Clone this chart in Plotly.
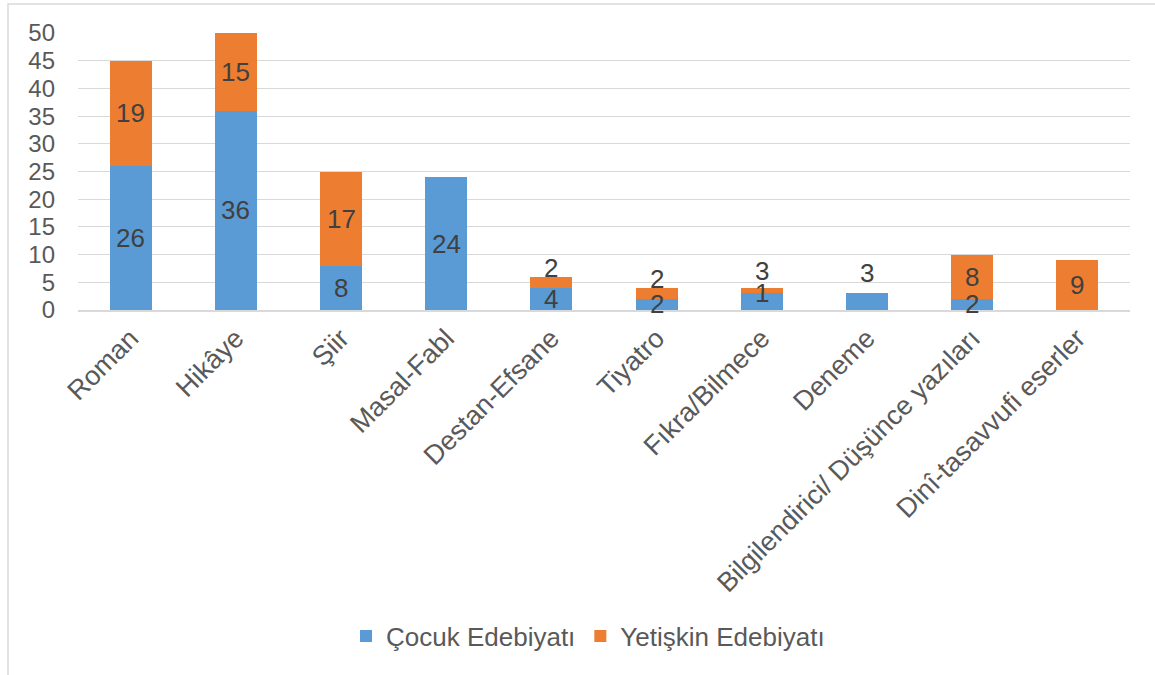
import plotly.graph_objects as go

categories = ["Roman", "Hikâye", "Şiir", "Masal-Fabl", "Destan-Efsane", "Tiyatro",
              "Fıkra/Bilmece", "Deneme", "Bilgilendirici/ Düşünce yazıları",
              "Dinî-tasavvufi eserler"]
cocuk = [26, 36, 8, 24, 4, 2, 3, 3, 2, 0]
yetiskin = [19, 14, 17, 0, 2, 2, 1, 0, 8, 9]
cocuk_labels = ["26", "36", "8", "24", "4", "2", "1", "3", "2", ""]
yetiskin_labels = ["19", "15", "17", "", "2", "2", "3", "", "8", "9"]

# label nudges (pixels up) for labels that sit above small segments
cocuk_shift = {"Fıkra/Bilmece": 9, "Deneme": 29}
yetiskin_shift = {"Destan-Efsane": 14, "Tiyatro": 14, "Fıkra/Bilmece": 20}

W, H = 1155, 675
ML, MR, MT, MB = 78, 25, 33, 365
PW, PH = W - ML - MR, H - MT - MB

BLUE = "#5B9BD5"
ORANGE = "#ED7D31"
GRID = "#D9D9D9"
FONT = "Liberation Sans, Arial, sans-serif"

fig = go.Figure()
fig.add_trace(go.Bar(name="Çocuk Edebiyatı", x=categories, y=cocuk,
                     marker=dict(color=BLUE, line=dict(width=0))))
fig.add_trace(go.Bar(name="Yetişkin Edebiyatı", x=categories, y=yetiskin,
                     marker=dict(color=ORANGE, line=dict(width=0))))

annotations = []
for c, v1, v2, l1, l2 in zip(categories, cocuk, yetiskin, cocuk_labels, yetiskin_labels):
    if l1:
        annotations.append(dict(x=c, y=v1 / 2, text=l1, showarrow=False,
                                yshift=cocuk_shift.get(c, 0),
                                font=dict(size=26, color="#404040", family=FONT)))
    if l2:
        annotations.append(dict(x=c, y=v1 + v2 / 2, text=l2, showarrow=False,
                                yshift=yetiskin_shift.get(c, 0),
                                font=dict(size=26, color="#404040", family=FONT)))

def px_x(p):
    return (p - ML) / PW

def px_y(p):
    return (H - MB - p) / PH

fig.update_layout(
    width=W, height=H,
    margin=dict(l=ML, r=MR, t=MT, b=MB, autoexpand=False),
    barmode="stack",
    bargap=0.6,
    plot_bgcolor="white",
    paper_bgcolor="white",
    font=dict(family=FONT, color="#595959", size=24),
    annotations=annotations,
    showlegend=True,
    legend=dict(orientation="h", x=px_x(588), xanchor="center",
                y=px_y(636), yanchor="middle",
                font=dict(size=26, color="#595959", family=FONT),
                bgcolor="rgba(0,0,0,0)", itemwidth=30, traceorder="normal"),
    shapes=[dict(type="rect", xref="paper", yref="paper",
                 x0=px_x(8), x1=px_x(1170), y0=px_y(690), y1=px_y(4),
                 line=dict(color=GRID, width=1.5), fillcolor="rgba(0,0,0,0)",
                 layer="below")],
)

fig.update_xaxes(tickangle=-45, tickfont=dict(size=27, color="#595959", family=FONT),
                 showline=True, linecolor=GRID, linewidth=1.5, showgrid=False,
                 ticks="", automargin=False)
fig.update_yaxes(range=[0, 50], dtick=5, tick0=0, showgrid=True, gridcolor=GRID,
                 gridwidth=1.3, zeroline=False, showline=False, ticks="",
                 tickfont=dict(size=24, color="#595959", family=FONT),
                 ticklabelstandoff=22, automargin=False)

fig.write_html("out.html", config={"displayModeBar": False},
               post_script="document.body.style.margin='0';document.body.style.overflow='hidden';")
